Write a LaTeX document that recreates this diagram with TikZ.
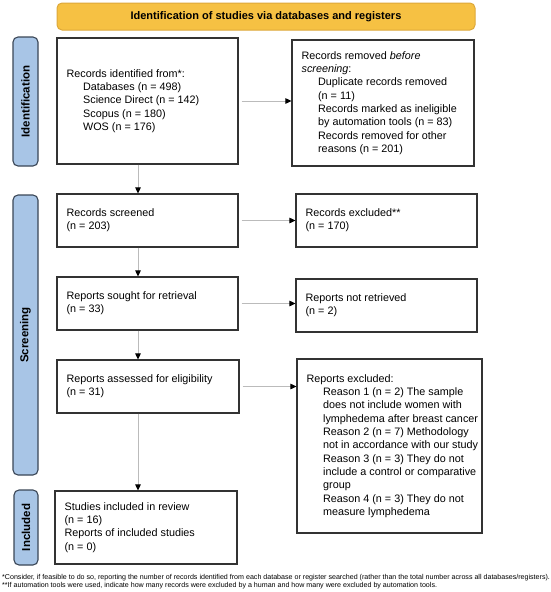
\documentclass[tikz,border=0pt]{standalone}
\usepackage{fontspec}
\setmainfont{Liberation Sans}
\usetikzlibrary{arrows.meta}
\definecolor{bannerfill}{HTML}{F6C143}
\definecolor{bannerdraw}{HTML}{DDA83A}
\definecolor{barfill}{HTML}{A8C5E6}
\definecolor{bardraw}{HTML}{3A4656}
\definecolor{boxdraw}{HTML}{333333}
\definecolor{arrowline}{HTML}{BBBBBB}
\tikzset{
  x=1pt, y=-1pt,
  flowbox/.style={draw=boxdraw, line width=1.1pt, fill=white, inner sep=0pt, anchor=center},
  boxtext/.style={anchor=west, inner sep=0pt, align=left, font=\fontsize{10.8}{13.3}\selectfont},
  sidebar/.style={draw=bardraw, line width=1.1pt, fill=barfill, rounded corners=5pt,
    minimum height=25pt, font=\fontsize{11.5}{13}\selectfont\bfseries, rotate=90, inner sep=0pt, anchor=center},
  banner/.style={draw=bannerdraw, line width=1pt, fill=bannerfill, rounded corners=5pt,
    minimum width=418pt, minimum height=27pt, font=\fontsize{11}{13}\selectfont\bfseries, inner sep=0pt},
  flowarrow/.style={draw=arrowline, line width=0.9pt, -{Triangle[length=6pt,width=5.5pt,color=black]}},
  foot/.style={anchor=west, inner sep=0pt, font=\fontsize{7.1}{8}\selectfont}
}
\newcommand{\ind}{\hspace*{16.5pt}}
\begin{document}
\begin{tikzpicture}
\useasboundingbox (0,0) rectangle (550,592);
% banner
\node[banner] (ban) at (266,16.5) {Identification of studies via databases and registers};
% side bars
\node[sidebar, minimum width=129pt] (sbid) at (25.5,101.5) {Identification};
\node[sidebar, minimum width=280pt] (sbsc) at (25.5,335) {Screening};
\node[sidebar, minimum width=75pt, minimum height=24pt] (sbin) at (26,527.5) {Included};
% boxes
\node[flowbox, minimum width=181pt, minimum height=126pt] (b1) at (147.5,101) {};
\node[boxtext] (b1t) at ([xshift=10pt]b1.west)
  {Records identified from*:\\
   \ind Databases (n = 498)\\
   \ind Science Direct (n = 142)\\
   \ind Scopus (n = 180)\\
   \ind WOS (n = 176)};
\node[flowbox, minimum width=182pt, minimum height=126pt] (rem) at (383,103) {};
\node[boxtext] (remt) at ([xshift=10pt]rem.west)
  {Records removed \textit{before}\\
   \textit{screening}:\\
   \ind Duplicate records removed\\
   \ind (n = 11)\\
   \ind Records marked as ineligible\\
   \ind by automation tools (n = 83)\\
   \ind Records removed for other\\
   \ind reasons (n = 201)};
\node[flowbox, minimum width=181pt, minimum height=53pt] (scr) at (147.5,220.5) {};
\node[boxtext] (scrt) at ([xshift=10pt]scr.west) {Records screened\\(n = 203)};
\node[flowbox, minimum width=181pt, minimum height=53pt] (exc) at (386.5,220.5) {};
\node[boxtext] (exct) at ([xshift=10pt]exc.west) {Records excluded**\\(n = 170)};
\node[flowbox, minimum width=181pt, minimum height=53pt] (sought) at (147.5,303.5) {};
\node[boxtext] (soughtt) at ([xshift=10pt]sought.west) {Reports sought for retrieval\\(n = 33)};
\node[flowbox, minimum width=181pt, minimum height=53pt] (notret) at (386.5,305.5) {};
\node[boxtext] (notrett) at ([xshift=10pt]notret.west) {Reports not retrieved\\(n = 2)};
\node[flowbox, minimum width=182pt, minimum height=53pt] (assess) at (148,386.5) {};
\node[boxtext] (assesst) at ([xshift=10pt]assess.west) {Reports assessed for eligibility\\(n = 31)};
\node[flowbox, minimum width=185pt, minimum height=174pt] (repexc) at (389.5,446) {};
\node[boxtext] (repexct) at ([xshift=10pt]repexc.west)
  {Reports excluded:\\
   \ind Reason 1 (n = 2) The sample\\
   \ind does not include women with\\
   \ind lymphedema after breast cancer\\
   \ind Reason 2 (n = 7) Methodology\\
   \ind not in accordance with our study\\
   \ind Reason 3 (n = 3) They do not\\
   \ind include a control or comparative\\
   \ind group\\
   \ind Reason 4 (n = 3) They do not\\
   \ind measure lymphedema};
\node[flowbox, minimum width=182pt, minimum height=73pt] (incl) at (146,527.5) {};
\node[boxtext] (inclt) at ([xshift=10pt]incl.west)
  {Studies included in review\\(n = 16)\\Reports of included studies\\(n = 0)};
% arrows
\draw[flowarrow, shorten <=3pt] (b1.east) -- (b1.east -| rem.west);
\draw[flowarrow, shorten <=3pt] (scr.east) -- (scr.east -| exc.west);
\draw[flowarrow, shorten <=3pt] (sought.east) -- (sought.east -| notret.west);
\draw[flowarrow, shorten <=3pt] (assess.east) -- (assess.east -| repexc.west);
\draw[flowarrow] ([xshift=-9.5pt]b1.south) -- ([xshift=-9.5pt]scr.north);
\draw[flowarrow] ([xshift=-9.5pt]scr.south) -- ([xshift=-9.5pt]sought.north);
\draw[flowarrow] ([xshift=-9.5pt]sought.south) -- ([xshift=-9.5pt]sought.south |- assess.north);
\draw[flowarrow] ([xshift=-10pt]assess.south) -- ([xshift=-10pt]assess.south |- incl.north);
% footnotes
\node[foot] (f1) at (2,578) {*Consider, if feasible to do so, reporting the number of records identified from each database or register searched (rather than the total number across all databases/registers).};
\node[foot] (f2) at (2,586) {**If automation tools were used, indicate how many records were excluded by a human and how many were excluded by automation tools.};
\end{tikzpicture}
\end{document}
